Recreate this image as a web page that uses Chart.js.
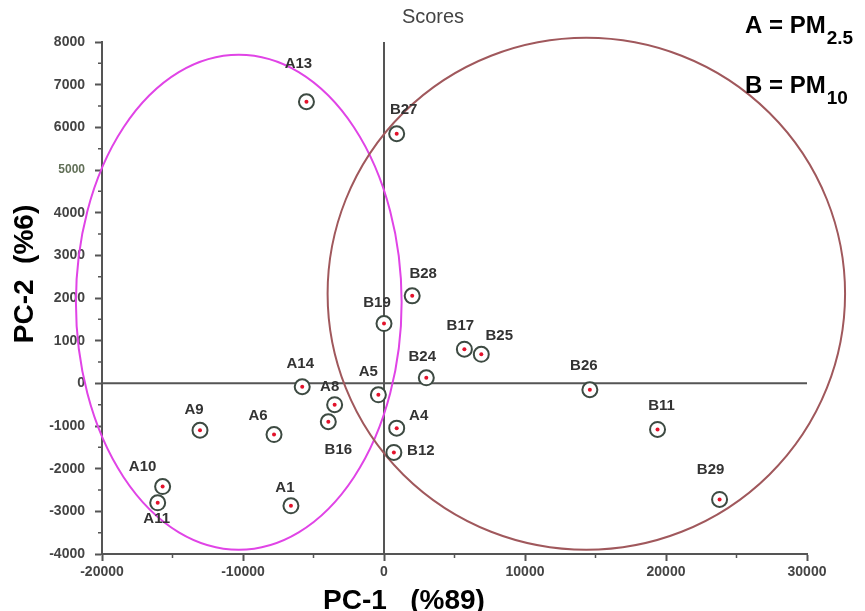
<!DOCTYPE html>
<html>
<head>
<meta charset="utf-8">
<script src="https://cdn.jsdelivr.net/npm/chart.js@4"></script>
<style>
  html, body { margin: 0; padding: 0; background: #fff; }
  #wrap { width: 865px; height: 611px; position: relative; }
</style>
</head>
<body>
<div id="wrap"><canvas id="scoreChart" width="865" height="611"></canvas></div>
<script>
// sample names and PCA scores
const sampleLabels = ['A13', 'B27', 'B28', 'B19', 'A14', 'A5', 'B24', 'A8', 'B17', 'B25', 'B26',
                      'A4', 'B12', 'B16', 'A6', 'A9', 'A10', 'A11', 'A1', 'B11', 'B29'];
const pc1Scores = [-5500, 900, 2000, 0, -5800, -400, 3000, -3500, 5700, 6900, 14600,
                   900, 700, -3950, -7800, -13050, -15700, -16050, -6600, 19400, 23800];
const pc2Scores = [6600, 5850, 2050, 1400, -80, -270, 130, -500, 800, 680, -150,
                   -1050, -1620, -900, -1200, -1100, -2420, -2800, -2870, -1080, -2720];

// group ellipses (PM2.5 group, PM10 group) in data units
const ellipseCenterX = [-10300, 14350];
const ellipseCenterY = [1900, 2100];
const ellipseRadiusX = [11550, 18350];
const ellipseRadiusY = [5800, 6000];
const ellipseColors = ['#e044e6', '#a0585c'];

// axis ranges / ticks
const xMin = -20000, xMax = 30000, xStep = 10000;
const yMin = -4000, yMax = 8000, yStep = 1000;

// where each label sits relative to its point (px)
const labelOffsets = [
  [-8, -38], [7, -24], [11, -22], [-7, -21], [-2, -23], [-10, -23], [-4, -21], [-5, -18],
  [-4, -23], [18, -18], [-6, -24], [22, -12], [27, -2], [10, 28], [-16, -19], [-6, -20],
  [-20, -20], [-1, 16], [-6, -18], [4, -24], [-9, -30]
];

const FONT = "'Liberation Sans', Arial, sans-serif";
const AXIS_COLOR = '#555';

const points = pc1Scores.map((x, i) => ({ x: x, y: pc2Scores[i] }));

// ellipses + zero lines, drawn under the points
const backdropPlugin = {
  id: 'backdrop',
  beforeDatasetsDraw(chart) {
    const ctx = chart.ctx;
    const xs = chart.scales.x, ys = chart.scales.y;
    const area = chart.chartArea;
    ctx.save();
    // zero lines
    ctx.strokeStyle = AXIS_COLOR;
    ctx.lineWidth = 2;
    const y0 = ys.getPixelForValue(0);
    const x0 = xs.getPixelForValue(0);
    ctx.beginPath();
    ctx.moveTo(area.left, y0);
    ctx.lineTo(area.right, y0);
    ctx.moveTo(x0, area.top);
    ctx.lineTo(x0, area.bottom);
    ctx.stroke();

    // minor ticks
    ctx.lineWidth = 1.5;
    ctx.beginPath();
    for (let v = yMin + yStep / 2; v < yMax; v += yStep) {
      const p = ys.getPixelForValue(v);
      ctx.moveTo(area.left - 4, p);
      ctx.lineTo(area.left, p);
    }
    for (let v = xMin + xStep / 2; v < xMax; v += xStep) {
      const p = xs.getPixelForValue(v);
      ctx.moveTo(p, area.bottom);
      ctx.lineTo(p, area.bottom + 4);
    }
    ctx.stroke();

    // group ellipses
    ctx.lineWidth = 2;
    for (let i = 0; i < ellipseCenterX.length; i++) {
      const cx = xs.getPixelForValue(ellipseCenterX[i]);
      const cy = ys.getPixelForValue(ellipseCenterY[i]);
      const rx = Math.abs(xs.getPixelForValue(ellipseCenterX[i] + ellipseRadiusX[i]) - cx);
      const ry = Math.abs(ys.getPixelForValue(ellipseCenterY[i] + ellipseRadiusY[i]) - cy);
      ctx.strokeStyle = ellipseColors[i];
      ctx.beginPath();
      ctx.ellipse(cx, cy, rx, ry, 0, 0, Math.PI * 2);
      ctx.stroke();
    }
    ctx.restore();
  }
};

// sample labels, titles and the legend text
const textPlugin = {
  id: 'texts',
  afterDatasetsDraw(chart) {
    const ctx = chart.ctx;
    const meta = chart.getDatasetMeta(1);
    ctx.save();
    ctx.fillStyle = '#333';
    ctx.font = 'bold 15px ' + FONT;
    ctx.textAlign = 'center';
    ctx.textBaseline = 'middle';
    meta.data.forEach((el, i) => {
      const off = labelOffsets[i];
      ctx.fillText(sampleLabels[i], el.x + off[0], el.y + off[1]);
    });

    // chart title
    ctx.fillStyle = '#444';
    ctx.font = '20px ' + FONT;
    ctx.fillText('Scores', 433, 17);

    // axis titles
    ctx.fillStyle = '#000';
    ctx.font = 'bold 28px ' + FONT;
    ctx.textBaseline = 'alphabetic';
    ctx.fillText('PC-1   (%89)', 404, 609);
    ctx.save();
    ctx.translate(33, 274);
    ctx.rotate(-Math.PI / 2);
    ctx.fillText('PC-2  (%6)', 0, 0);
    ctx.restore();

    // legend text with subscripts
    ctx.textAlign = 'left';
    const drawSub = (main, sub, x, y) => {
      ctx.font = 'bold 24px ' + FONT;
      ctx.fillText(main, x, y);
      const w = ctx.measureText(main).width;
      ctx.font = 'bold 19px ' + FONT;
      ctx.fillText(sub, x + w + 1, y + 11);
    };
    drawSub('A = PM', '2.5', 745, 33);
    drawSub('B = PM', '10', 745, 93);
    ctx.restore();
  }
};

new Chart(document.getElementById('scoreChart'), {
  type: 'scatter',
  data: {
    datasets: [
      {
        // dataset 0 is drawn on top
        label: 'dots',
        data: points,
        pointRadius: 2,
        pointHoverRadius: 2,
        borderWidth: 0,
        backgroundColor: '#e3122b',
        clip: false
      },
      {
        label: 'rings',
        data: points,
        pointRadius: 7.5,
        pointHoverRadius: 7.5,
        borderWidth: 2,
        borderColor: '#3d4a42',
        backgroundColor: '#fff',
        clip: false
      }
    ]
  },
  options: {
    responsive: false,
    animation: false,
    events: [],
    layout: { padding: { left: 0, right: 58, top: 42, bottom: 0 } },
    plugins: {
      legend: { display: false },
      tooltip: { enabled: false },
      title: { display: false }
    },
    scales: {
      x: {
        type: 'linear',
        min: xMin,
        max: xMax,
        afterFit(scale) { scale.height = 57; },
        ticks: {
          stepSize: xStep,
          padding: 3,
          color: '#444',
          font: { family: FONT, size: 14, weight: 'bold' },
          maxRotation: 0,
          callback: v => String(v)
        },
        grid: { drawOnChartArea: false, tickLength: 7, tickColor: AXIS_COLOR, tickWidth: 2 },
        border: { display: true, color: AXIS_COLOR, width: 2 }
      },
      y: {
        type: 'linear',
        min: yMin,
        max: yMax,
        afterFit(scale) { scale.width = 102; },
        ticks: {
          stepSize: yStep,
          padding: 10,
          color: ctx => ctx.tick && ctx.tick.value === 5000 ? '#627058' : '#444',
          font: ctx => ctx.tick && ctx.tick.value === 5000
            ? { family: FONT, size: 12, weight: 'bold' }
            : { family: FONT, size: 14, weight: 'bold' },
          callback: v => String(v)
        },
        grid: { drawOnChartArea: false, tickLength: 7, tickColor: AXIS_COLOR, tickWidth: 2 },
        border: { display: true, color: AXIS_COLOR, width: 2 }
      }
    }
  },
  plugins: [backdropPlugin, textPlugin]
});
</script>
</body>
</html>
